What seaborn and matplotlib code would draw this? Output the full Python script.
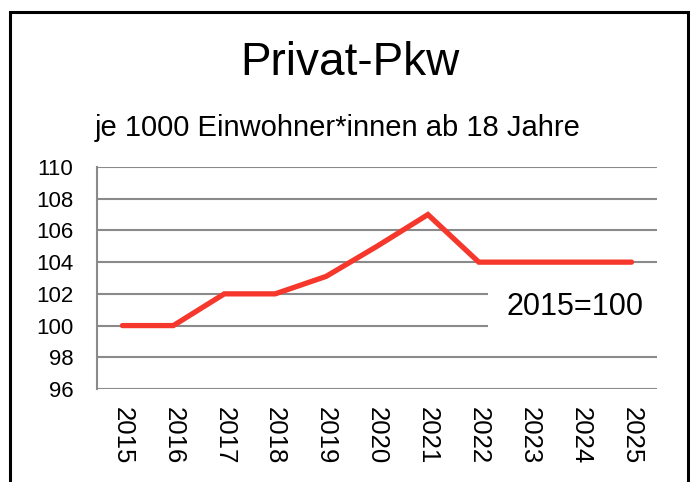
import matplotlib
matplotlib.use("Agg")
import matplotlib.pyplot as plt
import seaborn as sns
import pandas as pd
from matplotlib.patches import Rectangle

years = ["2015", "2016", "2017", "2018", "2019", "2020", "2021", "2022", "2023", "2024", "2025"]
values = [100, 100, 102, 102, 103.1, 105, 107, 104, 104, 104, 104]
yticks = [96, 98, 100, 102, 104, 106, 108, 110]
title = "Privat-Pkw"
subtitle = "je 1000 Einwohner*innen ab 18 Jahre"
note = "2015=100"

sns.set_style("white")
plt.rcParams['font.family'] = ['Liberation Sans', 'DejaVu Sans']
plt.rcParams['text.color'] = 'black'
plt.rcParams['xtick.color'] = 'black'
plt.rcParams['ytick.color'] = 'black'

df = pd.DataFrame({"Jahr": years, "Index": values})

fig = plt.figure(figsize=(6.9, 4.82), dpi=100)
ax = fig.add_axes([97/690, 1-389/482, 560/690, 222/482])

grid_c = "#8a8a8a"
for y in yticks:
    ax.axhline(y, color=grid_c, lw=1.5, zorder=1)

sns.lineplot(data=df, x="Jahr", y="Index", ax=ax, color="#f5372c", lw=3.8,
             sort=False, zorder=3, solid_capstyle="round", solid_joinstyle="miter")

ax.set_xlim(-0.5, len(years) - 0.5)
ax.set_ylim(96, 110)
ax.set_yticks(yticks)
ax.set_yticklabels([str(t) for t in yticks], fontsize=16)
ax.set_xticks(range(len(years)))
ax.set_xticklabels(years, rotation=270, fontsize=18.5, va="top", ha="center")
ax.tick_params(axis="x", length=0, pad=13)
ax.tick_params(axis="y", length=0, pad=17)
ax.set_xlabel("")
ax.set_ylabel("")
for s in ["top", "right", "bottom"]:
    ax.spines[s].set_visible(False)
ax.spines["left"].set_color(grid_c)
ax.spines["left"].set_linewidth(1.5)
ax.spines["left"].set_zorder(2)

# white box behind note (hides gridlines)
ax.add_patch(Rectangle((391/560, 99.1), 0.4, 4.8, transform=ax.get_yaxis_transform(),
                       facecolor="white", edgecolor="none", zorder=2, clip_on=False))
fig.text(575/690, 1-307/482, note, fontsize=22, ha="center", va="center")

fig.text(350/690, 1-63/482, title, fontsize=33, ha="center", va="center")
fig.text(338/690, 1-128/482, subtitle, fontsize=21, ha="center", va="center")

fig.add_artist(Rectangle((10/690, -0.1), 678/690, 1.1 - 12/482, transform=fig.transFigure,
                         facecolor="none", edgecolor="black", lw=2.2))

fig.savefig("out.png", dpi=100)
